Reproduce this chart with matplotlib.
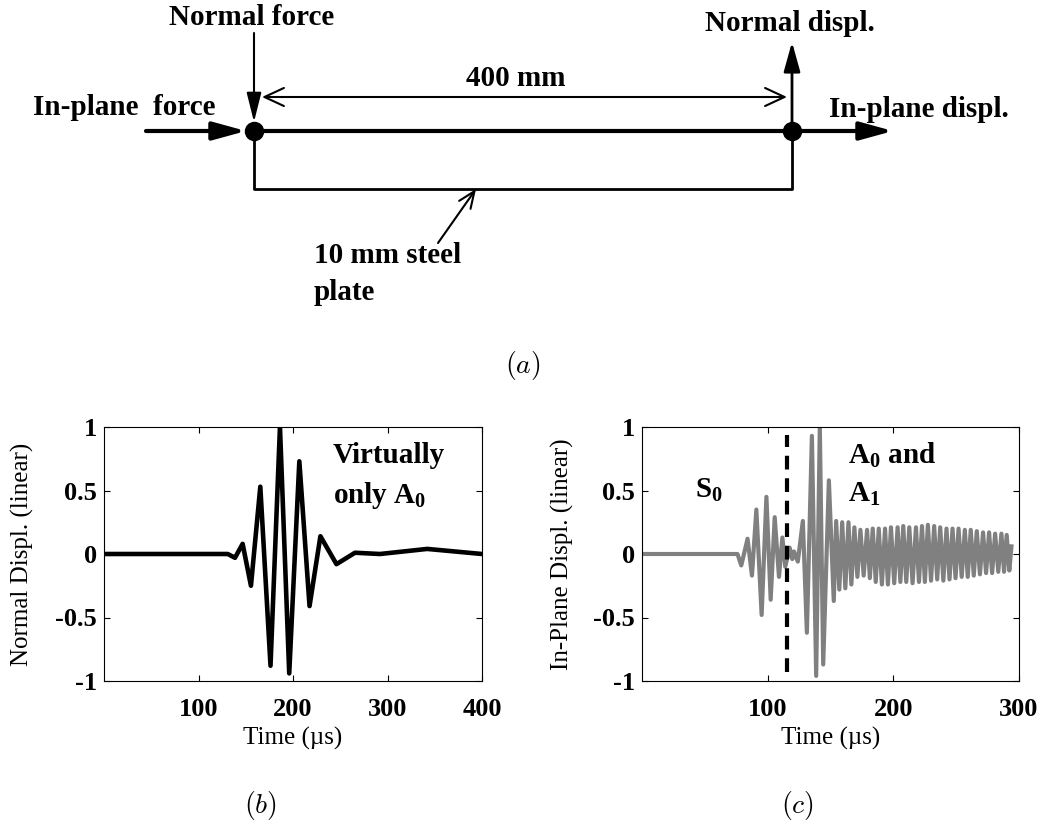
import matplotlib
matplotlib.use('Agg')
import matplotlib.pyplot as plt

plt.rcParams['font.family'] = ['Liberation Serif', 'DejaVu Serif']
plt.rcParams['mathtext.fontset'] = 'custom'
plt.rcParams['mathtext.rm'] = 'Liberation Serif'
plt.rcParams['mathtext.bf'] = 'Liberation Serif:bold'
plt.rcParams['mathtext.it'] = 'Liberation Serif:italic'

# (b) normal displacement: turning points (time in us)
b_time = [0, 131, 138.6, 146.7, 155.5, 165.4, 176.2, 186.2, 196.0, 206.7,
          217.5, 229.0, 246.0, 265.6, 292.0, 342.0, 400.0]
b_disp = [0, 0, -0.03, 0.08, -0.25, 0.53, -0.88, 1.0, -0.94, 0.73,
          -0.41, 0.14, -0.08, 0.01, 0.0, 0.04, 0.0]

# (c) in-plane displacement: turning points
c_time = [0, 76.0, 79.0, 84.0, 87.5, 91.0, 95.2, 99.0, 102.4, 105.6,
          109.0, 111.7, 114.0, 117.5, 119.6, 121.0, 124.0, 128.0, 131.2, 135.2,
          138.6, 141.5, 144.2, 148.7, 152.6,
          154.5, 157.0, 159.3, 161.8, 164.3, 166.6, 169.0, 171.4, 173.8, 176.4,
          179.1, 181.3, 183.6, 186.0, 188.4, 190.9, 193.4, 195.7, 198.1, 200.7,
          203.4, 205.6, 207.9, 210.3, 212.7, 215.3, 218.0, 220.4, 222.8, 225.1,
          227.5, 230.0, 232.5, 234.9, 237.3, 239.8, 242.3, 244.7, 247.1, 249.5,
          251.9, 254.4, 256.9, 259.2, 261.6, 264.0, 266.4, 268.9, 271.4, 273.8,
          276.2, 278.6, 281.0, 283.5, 286.0, 288.1, 290.2, 292.3, 294.0]
c_disp = [0, 0, -0.09, 0.12, -0.17, 0.35, -0.48, 0.45, -0.36, 0.29,
          -0.18, 0.13, -0.10, 0.05, -0.04, 0.02, -0.06, 0.26, -0.62, 0.93,
          -0.96, 1.0, -0.87, 0.58, -0.37,
          0.26, -0.28, 0.25, -0.27, 0.25, -0.24, 0.21, -0.18, 0.19, -0.17,
          0.19, -0.19, 0.20, -0.22, 0.20, -0.24, 0.20, -0.24, 0.21, -0.23,
          0.21, -0.22, 0.22, -0.22, 0.21, -0.23, 0.21, -0.22, 0.22, -0.22,
          0.23, -0.21, 0.22, -0.20, 0.21, -0.21, 0.20, -0.20, 0.20, -0.19,
          0.20, -0.18, 0.19, -0.18, 0.19, -0.17, 0.18, -0.16, 0.17, -0.15,
          0.17, -0.15, 0.16, -0.14, 0.16, -0.14, 0.15, -0.13, 0.06]

split_time = 115.3      # dashed divider S0 | A0,A1
split_span = [-0.93, 0.94]

b_xticks = [100, 200, 300, 400]
c_xticks = [100, 200, 300]
yticks = [-1, -0.5, 0, 0.5, 1]
ytick_labels = ['-1', '-0.5', '0', '0.5', '1']

fig = plt.figure(figsize=(10.51, 8.25), dpi=100)

# ---- (a) sketch, drawn in pixel units ----
sk = fig.add_axes([0, 0, 1, 1])
sk.set_xlim(0, 1051)
sk.set_ylim(825, 0)
sk.axis('off')


def arrow(p0, p1, lw, hl, hw, style='-|>'):
    sk.annotate('', xy=p1, xytext=p0,
                arrowprops=dict(arrowstyle=f'{style},head_length={hl},head_width={hw}',
                                lw=lw, color='black', shrinkA=0, shrinkB=0,
                                mutation_scale=10))


sk.plot([254, 792], [131, 131], lw=3, color='black', solid_capstyle='butt')
sk.plot([254, 254, 792, 792], [131, 189, 189, 131], lw=2, color='black')
sk.plot([254, 792], [131, 131], 'o', ms=13, color='black')

arrow((146, 131), (246, 131), 3, 2.0, 0.55)
arrow((254, 33), (254, 122), 1.5, 1.8, 0.45)
arrow((792, 131), (792, 42), 2, 1.8, 0.5)
arrow((792, 131), (893, 131), 3, 2.0, 0.55)
arrow((262, 97), (787, 97), 1.5, 1.4, 0.65, style='<->')
arrow((438, 243), (476, 189), 1.5, 1.2, 0.5, style='->')

tk = dict(fontsize=21, fontweight='bold', va='baseline')
sk.text(252, 25, 'Normal force', ha='center', **tk)
sk.text(33, 115, 'In-plane  force', ha='left', **tk)
sk.text(516, 86, '400 mm', ha='center', **tk)
sk.text(790, 31, 'Normal displ.', ha='center', **tk)
sk.text(829, 117, 'In-plane displ.', ha='left', **tk)
sk.text(314, 263, '10 mm steel', ha='left', **tk)
sk.text(314, 300, 'plate', ha='left', **tk)

sk.text(523, 366, r'$(a)$', ha='center', va='center', fontsize=20, math_fontfamily='cm')
sk.text(260, 805, r'$(b)$', ha='center', va='center', fontsize=20, math_fontfamily='cm')
sk.text(797, 805, r'$(c)$', ha='center', va='center', fontsize=20, math_fontfamily='cm')


def style_axes(ax, xticks, xmax):
    ax.set_xlim(0, xmax)
    ax.set_ylim(-1, 1)
    ax.set_xticks(xticks)
    ax.set_yticks(yticks)
    ax.set_yticklabels(ytick_labels)
    ax.tick_params(direction='in', top=True, right=True, length=4, width=0.8,
                   labelsize=19)
    ax.tick_params(axis='x', pad=12)
    ax.tick_params(axis='y', pad=5)
    for lab in ax.get_xticklabels() + ax.get_yticklabels():
        lab.set_fontweight('bold')
    for sp in ax.spines.values():
        sp.set_linewidth(0.8)
    ax.set_xlabel('Time (µs)', fontsize=18, va='center')
    ax.xaxis.set_label_coords(0.5, -0.228)


# ---- (b) ----
axb = fig.add_axes([104 / 1051, 1 - 681 / 825, 378 / 1051, 254 / 825])
axb.plot(b_time, b_disp, color='black', lw=3.3)
style_axes(axb, b_xticks, 400)
axb.set_ylabel('Normal Displ. (linear)', fontsize=18, va='center')
axb.yaxis.set_label_coords(-0.217, 0.5)
axb.text(0.606, 0.858, 'Virtually', transform=axb.transAxes,
         fontsize=21, fontweight='bold', va='baseline')
axb.text(0.606, 0.70, r'only A$_\mathbf{0}$', transform=axb.transAxes,
         fontsize=21, fontweight='bold', va='baseline')

# ---- (c) ----
axc = fig.add_axes([642 / 1051, 1 - 681 / 825, 377 / 1051, 254 / 825])
axc.plot(c_time, c_disp, color='#808080', lw=3.0)
axc.plot([split_time, split_time], split_span, color='black', lw=3,
         linestyle=(0, (3.3, 2.1)))
style_axes(axc, c_xticks, 300)
axc.set_ylabel('In-Plane Displ. (linear)', fontsize=18, va='center')
axc.yaxis.set_label_coords(-0.212, 0.5)
axc.text(0.141, 0.72, r'S$_\mathbf{0}$', transform=axc.transAxes,
         fontsize=21, fontweight='bold', va='baseline')
axc.text(0.546, 0.857, r'A$_\mathbf{0}$ and', transform=axc.transAxes,
         fontsize=21, fontweight='bold', va='baseline')
axc.text(0.546, 0.706, r'A$_\mathbf{1}$', transform=axc.transAxes,
         fontsize=21, fontweight='bold', va='baseline')

fig.savefig('out.png', dpi=100)
